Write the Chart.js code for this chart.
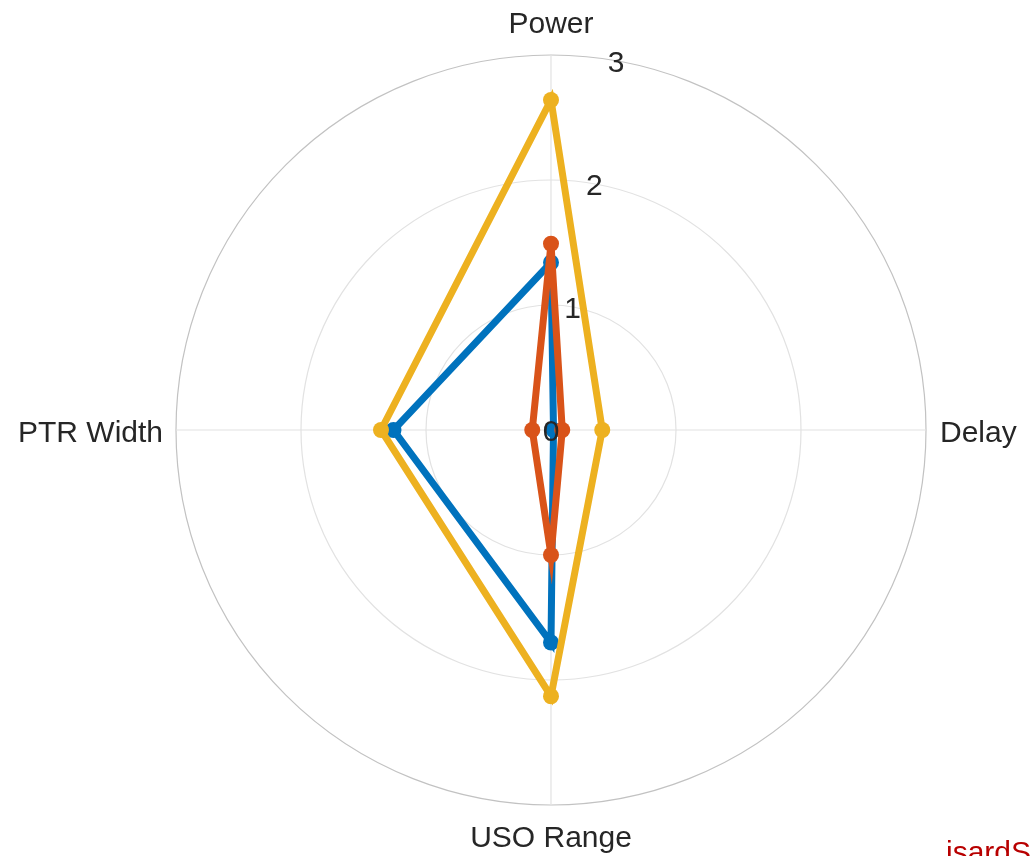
<!DOCTYPE html>
<html>
<head>
<meta charset="utf-8">
<script src="https://cdn.jsdelivr.net/npm/chart.js@4"></script>
<style>
  html, body { margin: 0; padding: 0; background: #fff; }
  #wrap { position: relative; width: 1030px; height: 856px; overflow: hidden; }
  #mark { position: absolute; left: 946px; top: 835px; font: 30px "Liberation Sans", Arial, sans-serif; color: #b80000; }
</style>
</head>
<body>
<div id="wrap">
  <canvas id="radar" width="1030" height="856"></canvas>
  <div id="mark">isardS</div>
</div>
<script>
// axes, clockwise from the top
const categories = ['Power', 'Delay', 'USO Range', 'PTR Width'];
const tickLabels = ['0', '1', '2', '3'];

// values
const seriesBlue = [1.34, 0.02, 1.70, 1.26];
const seriesOrange = [1.49, 0.09, 1.00, 0.15];
const seriesYellow = [2.64, 0.41, 2.13, 1.36];

const FONT = '"Liberation Sans", Arial, Helvetica, sans-serif';
const TEXT = '#262626';

// axis names and ring numbers, placed from the radial scale geometry
const labelPlugin = {
    id: 'radarLabels',
    afterDatasetsDraw(chart) {
        const scale = chart.scales.r;
        const c = chart.ctx;
        const R = scale.drawingArea;
        c.save();
        c.font = '30px ' + FONT;
        c.fillStyle = TEXT;
        c.textBaseline = 'alphabetic';

        // ring numbers sit about 10 degrees clockwise of the top axis
        const ang = 10 * Math.PI / 180;
        c.textAlign = 'center';
        tickLabels.forEach(function(t) {
            const d = scale.getDistanceFromCenterForValue(Number(t));
            const x = scale.xCenter + d * Math.sin(ang);
            const y = scale.yCenter - d * Math.cos(ang);
            c.fillText(t, x, y + 11);
        });

        categories.forEach(function(name, i) {
            const a = scale.getIndexAngle(i);
            const sx = Math.round(Math.sin(a));
            const sy = Math.round(-Math.cos(a));
            if (sy < 0) {
                const p = scale.getPointPosition(i, R + 22);
                c.textAlign = 'center';
                c.fillText(name, p.x, p.y);
            } else if (sy > 0) {
                const p = scale.getPointPosition(i, R + 42);
                c.textAlign = 'center';
                c.fillText(name, p.x, p.y);
            } else if (sx > 0) {
                const p = scale.getPointPosition(i, R + 14);
                c.textAlign = 'left';
                c.fillText(name, p.x, p.y + 12);
            } else {
                const p = scale.getPointPosition(i, R + 13);
                c.textAlign = 'right';
                c.fillText(name, p.x, p.y + 12);
            }
        });
        c.restore();
    }
};

function ds(data, color, order) {
    return {
        data: data,
        borderColor: color,
        backgroundColor: color,
        pointBackgroundColor: color,
        pointBorderColor: color,
        borderWidth: 7,
        pointRadius: 8,
        pointBorderWidth: 0,
        fill: false,
        order: order
    };
}

document.addEventListener('DOMContentLoaded', function() {
    const ctx = document.getElementById('radar').getContext('2d');
    new Chart(ctx, {
        type: 'radar',
        data: {
            labels: categories,
            datasets: [
                ds(seriesBlue, '#0072BD', 2),
                ds(seriesOrange, '#D95319', 1),
                ds(seriesYellow, '#EDB120', 0)
            ]
        },
        options: {
            responsive: false,
            animation: false,
            devicePixelRatio: 1,
            // square plot area of 750px, centred at (551, 430)
            layout: { padding: { top: 55, bottom: 51, left: 176, right: 104 } },
            plugins: {
                legend: { display: false },
                tooltip: { enabled: false }
            },
            elements: { line: { tension: 0 } },
            scales: {
                r: {
                    min: 0,
                    max: 3,
                    ticks: { stepSize: 1, display: false },
                    grid: {
                        circular: true,
                        lineWidth: 1.2,
                        color: function(c) {
                            return c.index === 3 ? '#c2c2c2' : '#e2e2e2';
                        }
                    },
                    angleLines: { color: '#e2e2e2', lineWidth: 1.2 },
                    pointLabels: { display: false }
                }
            }
        },
        plugins: [labelPlugin]
    });
});
</script>
</body>
</html>
